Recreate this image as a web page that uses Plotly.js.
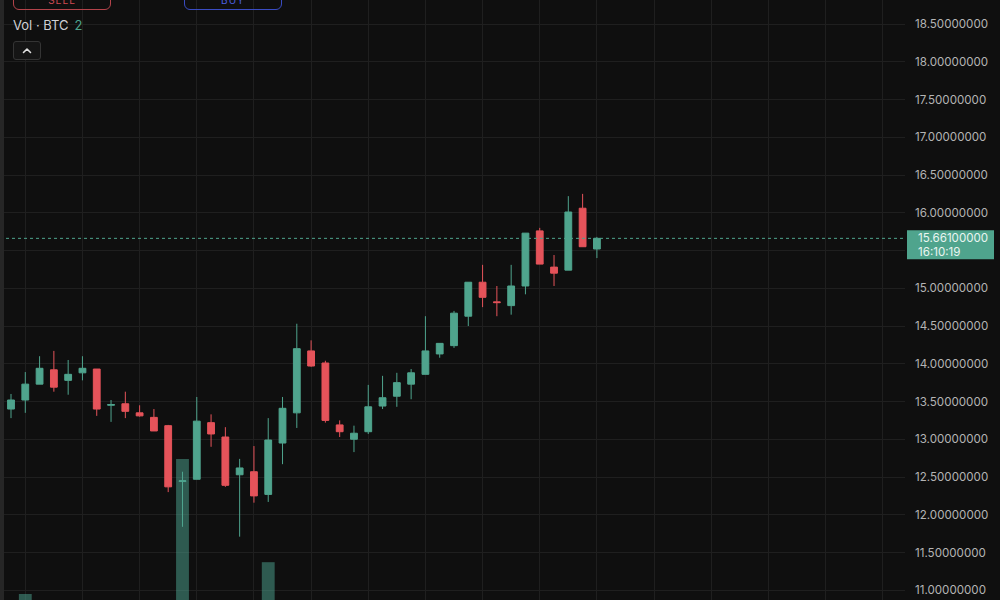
<!DOCTYPE html>
<html>
<head>
<meta charset="utf-8">
<script src="https://cdn.plot.ly/plotly-3.0.1.min.js"></script>
<style>
  html, body { margin:0; padding:0; background:#0f0f0f; overflow:hidden; }
  #wrap { position:relative; width:1000px; height:600px; overflow:hidden; }
  #chart { position:absolute; left:0; top:0; width:1000px; height:600px; }
  .ui { position:absolute; font-family:"Inter","Liberation Sans",sans-serif; box-sizing:border-box; }
  .btn { border-radius:6px; text-align:center; font-size:10px; letter-spacing:1px; line-height:17px; }
  #sell { left:13px; top:-9px; width:98px; height:19px; border:1px solid #b3434a; color:#cf4a52; }
  #buy  { left:184px; top:-9px; width:98px; height:19px; border:1px solid #3a4cc2; color:#4a5fe0; }
  #vol  { left:13px; top:17px; font-size:13px; color:#cfd1d6; white-space:nowrap; }
  #vol span { color:#4ea48e; margin-left:6px; }
  #chev { left:13px; top:41px; width:28px; height:19px; border:1px solid #343434; background:#151515; border-radius:3px; }
  #lborder { left:0; top:0; width:4px; height:600px; background:#262626; }
</style>
</head>
<body>
<div id="wrap">
  <div id="chart"></div>
  <div class="ui" id="lborder"></div>
  <div class="ui btn" id="sell">SELL</div>
  <div class="ui btn" id="buy">BUY</div>
  <div class="ui" id="vol">Vol · BTC<span>2</span></div>
  <div class="ui" id="chev"><svg width="26" height="17" style="position:absolute;left:0;top:0"><polyline points="9.5,10.5 13,7 16.5,10.5" fill="none" stroke="#e0e0e0" stroke-width="1.6" stroke-linecap="round" stroke-linejoin="round"/></svg></div>
</div>
<script>
// ---- data ----
const openP  = [13.40,13.52,13.73,13.92,13.78,13.88,13.93,13.45,13.47,13.35,13.29,13.18,12.44,12.47,13.22,13.03,12.53,12.57,12.27,12.95,13.35,14.17,14.01,13.19,13.00,13.10,13.44,13.57,13.73,13.86,14.13,14.24,14.63,15.08,14.82,14.77,15.03,15.76,15.28,15.24,16.06,15.52];
const highP  = [13.60,13.89,14.10,14.17,14.05,14.10,13.93,13.52,13.63,13.45,13.40,13.19,12.57,13.56,13.33,13.16,12.74,12.91,13.28,13.56,14.53,14.31,14.04,13.25,13.18,13.72,13.84,13.88,13.93,14.63,14.27,14.70,15.08,15.31,15.03,15.31,15.73,15.80,15.44,16.22,16.25,15.68];
const lowP   = [13.28,13.35,13.73,13.63,13.59,13.78,13.31,13.23,13.28,13.30,13.11,12.30,11.84,12.47,12.90,12.37,11.71,12.16,12.17,12.67,13.15,13.96,13.22,13.03,12.83,13.07,13.40,13.43,13.53,13.86,14.08,14.21,14.50,14.75,14.63,14.65,14.92,15.32,15.03,15.24,15.55,15.40];
const closeP = [13.52,13.73,13.94,13.69,13.86,13.94,13.40,13.46,13.37,13.31,13.11,12.37,12.45,13.24,13.07,12.39,12.62,12.25,12.99,13.41,14.20,13.97,13.25,13.10,13.08,13.43,13.55,13.75,13.88,14.17,14.27,14.67,15.08,14.88,14.81,15.03,15.73,15.32,15.20,16.01,15.55,15.661];
const volume = [1.5,4.0,1.2,0.9,0.6,0.5,1.8,0.7,0.8,0.4,1.1,2.6,26.5,2.2,1.0,1.9,2.4,1.6,9.3,2.1,2.8,1.3,2.5,0.9,0.8,1.7,1.0,1.2,0.9,2.3,0.8,1.9,2.6,1.4,0.9,1.5,2.7,1.8,1.1,2.9,2.4,2.0];
const priceTicks = [11.0,11.5,12.0,12.5,13.0,13.5,14.0,14.5,15.0,15.5,16.0,16.5,17.0,17.5,18.0,18.5];
const lastPrice = 15.661;
const lastPriceLabel = "15.66100000";
const countdown = "16:10:19";
const idx = openP.map((_, i) => i);

const GREEN = "#4fa48d", RED = "#e5535a", GRID = "#1f1f1f";
// tick labels hidden behind the last-price tag (its gridline is still drawn)
const labelTicks = priceTicks.filter(v => Math.abs(v - lastPrice) > 0.25);
const hiddenTicks = priceTicks.filter(v => Math.abs(v - lastPrice) <= 0.25);

const volTrace = {
  type: "bar", x: idx, y: volume, yaxis: "y2", width: 0.9,
  marker: { color: "rgba(78,166,146,0.5)", line: { width: 0 } },
  hoverinfo: "skip", showlegend: false
};
const candle = {
  type: "candlestick", x: idx, open: openP, high: highP, low: lowP, close: closeP,
  increasing: { line: { color: GREEN, width: 1 }, fillcolor: GREEN },
  decreasing: { line: { color: RED, width: 1 }, fillcolor: RED },
  whiskerwidth: 0, showlegend: false
};

const shapes = hiddenTicks.map(v => ({
  type: "line", layer: "below", xref: "paper", x0: 0, x1: 1, yref: "y", y0: v, y1: v,
  line: { color: GRID, width: 1 }
}));
shapes.push({
  type: "line", xref: "paper", x0: 0, x1: 1, yref: "y", y0: lastPrice, y1: lastPrice,
  line: { color: GREEN, width: 1, dash: "dot" }
});
shapes.push({
  type: "rect", xref: "paper", xsizemode: "pixel", xanchor: 1, x0: 2, x1: 89,
  yref: "y", ysizemode: "pixel", yanchor: lastPrice, y0: 8, y1: -21,
  fillcolor: GREEN, line: { width: 0 }
});

const FONT = "Inter, 'Liberation Sans', sans-serif";
const layout = {
  width: 1000, height: 600,
  margin: { l: 0, r: 95, t: 0, b: 0 },
  paper_bgcolor: "#0f0f0f", plot_bgcolor: "#0f0f0f",
  showlegend: false, boxgap: 0.32,
  font: { family: FONT, color: "#b4b4b4", size: 12 },
  xaxis: {
    type: "linear", range: [-0.77, 62.56], tick0: 1, dtick: 4,
    showgrid: true, gridcolor: GRID, gridwidth: 1,
    showticklabels: false, zeroline: false, ticks: "",
    rangeslider: { visible: false }, fixedrange: true
  },
  yaxis: {
    side: "right", range: [10.871, 18.818], tickmode: "array", tickvals: labelTicks,
    tickformat: ".8f", showgrid: true, gridcolor: GRID, gridwidth: 1,
    zeroline: false, ticks: "", showline: false, ticklabelstandoff: 9,
    tickfont: { size: 11.6, color: "#b4b4b4" }
  },
  yaxis2: { overlaying: "y", range: [3, 103], visible: false, fixedrange: true },
  shapes: shapes,
  annotations: [
    { xref: "paper", x: 1, xanchor: "left", xshift: 11, yref: "y", y: lastPrice, yanchor: "middle",
      text: lastPriceLabel, showarrow: false, font: { size: 11.6, color: "#e9f5f1" } },
    { xref: "paper", x: 1, xanchor: "left", xshift: 11, yref: "y", y: lastPrice, yanchor: "middle", yshift: -14,
      text: countdown, showarrow: false, font: { size: 11.6, color: "#e9f5f1" } }
  ]
};

Plotly.newPlot("chart", [volTrace, candle], layout, { displayModeBar: false, staticPlot: true });
</script>
</body>
</html>
